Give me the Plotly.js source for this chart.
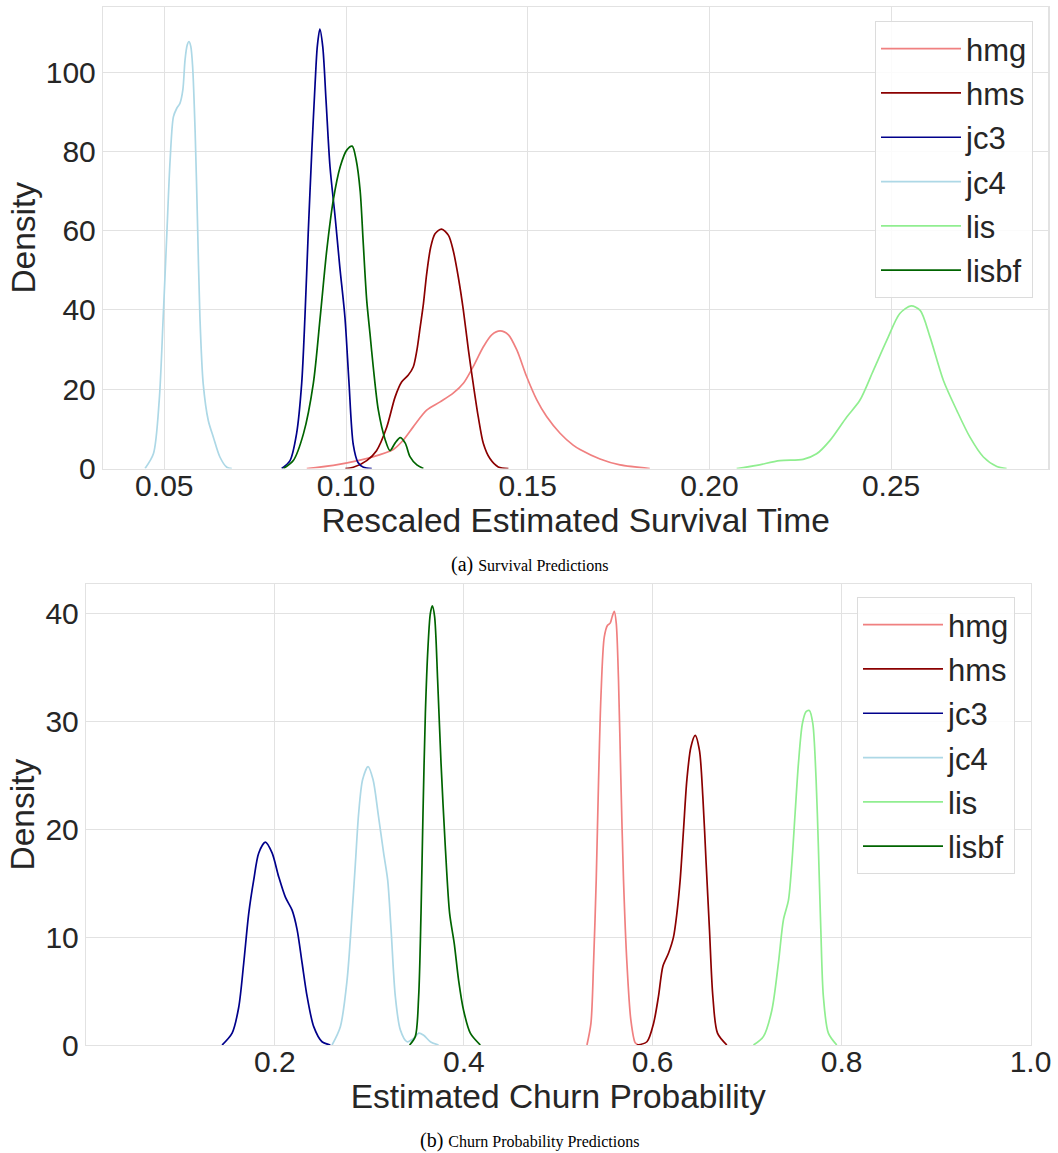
<!DOCTYPE html>
<html>
<head>
<meta charset="utf-8">
<script src="https://cdn.plot.ly/plotly-3.0.1.min.js"></script>
<style>
  html, body { margin: 0; padding: 0; background: #ffffff; }
  #chart { width: 1058px; height: 1153px; }
</style>
</head>
<body>
<div id="chart"></div>
<script>
// ---------- Series names & colours ----------
const seriesNames = ["hmg", "hms", "jc3", "jc4", "lis", "lisbf"];
const seriesColors = ["#F08080", "#8B0000", "#00008B", "#ADD8E6", "#90EE90", "#006400"];

// ---------- (a) Survival predictions: density curves ----------
const survHmgX = [0.0892, 0.0965, 0.1039, 0.1094, 0.1130, 0.1158, 0.1185, 0.1222, 0.1259, 0.1295, 0.1323, 0.1350, 0.1378, 0.1401, 0.1424, 0.1447, 0.1470, 0.1497, 0.1525, 0.1552, 0.1589, 0.1625, 0.1644, 0.1699, 0.1754, 0.1836];
const survHmgY = [0, 0.8, 2.1, 3.5, 4.8, 7.2, 10.5, 14.7, 16.8, 19.0, 21.5, 25.7, 30.7, 33.7, 34.7, 33.7, 29.9, 23.2, 17.3, 13.1, 8.9, 5.9, 4.8, 2.4, 0.9, 0];

const survHmsX = [0.0998, 0.1020, 0.1057, 0.1084, 0.1112, 0.1135, 0.1153, 0.1171, 0.1185, 0.1195, 0.1204, 0.1213, 0.1222, 0.1233, 0.1245, 0.1263, 0.1282, 0.1295, 0.1309, 0.1323, 0.1337, 0.1350, 0.1364, 0.1378, 0.1396, 0.1419, 0.1447];
const survHmsY = [0, 0.3, 2.0, 4.5, 10.4, 18.0, 21.8, 23.5, 25.6, 29.8, 35.6, 41.5, 49.1, 55.8, 59.2, 60.4, 58.8, 55.0, 48.3, 39.9, 29.8, 21.4, 13.0, 6.3, 2.5, 0.4, 0];

const survJc3X = [0.0823, 0.0846, 0.0864, 0.0878, 0.0887, 0.0896, 0.0906, 0.0915, 0.0921, 0.0928, 0.0936, 0.0945, 0.0956, 0.0970, 0.0983, 0.0997, 0.1008, 0.1020, 0.1033, 0.1048, 0.1071];
const survJc3Y = [0, 2.0, 8.8, 21.4, 38.2, 59.3, 80.3, 97.1, 106.4, 110.8, 106.4, 92.9, 76.1, 63.5, 50.8, 38.2, 22.0, 6.0, 1.5, 0.3, 0];

const survJc4X = [0.0447, 0.0470, 0.0486, 0.0497, 0.0507, 0.0516, 0.0525, 0.0534, 0.0543, 0.0551, 0.0557, 0.0563, 0.0568, 0.0573, 0.0578, 0.0585, 0.0591, 0.0598, 0.0607, 0.0621, 0.0635, 0.0653, 0.0672, 0.0686];
const survJc4Y = [0, 3.7, 17.2, 38.2, 59.3, 77.8, 88.7, 90.8, 92.1, 95.5, 103.0, 106.8, 107.7, 106.4, 101.3, 84.5, 63.5, 38.2, 21.4, 12.1, 7.9, 2.9, 0.3, 0];

const survLisX = [0.2075, 0.2130, 0.2194, 0.2258, 0.2295, 0.2332, 0.2378, 0.2414, 0.2451, 0.2488, 0.2524, 0.2555, 0.2580, 0.2607, 0.2644, 0.2681, 0.2717, 0.2754, 0.2791, 0.2818];
const survLisY = [0, 0.8, 2.0, 2.3, 3.7, 7.1, 13.0, 17.2, 24.7, 32.3, 39.1, 41.0, 39.9, 33.2, 22.2, 14.6, 7.9, 2.9, 0.5, 0];

const survLisbfX = [0.0828, 0.0855, 0.0883, 0.0910, 0.0929, 0.0947, 0.0965, 0.0984, 0.1002, 0.1017, 0.1028, 0.1039, 0.1047, 0.1057, 0.1066, 0.1075, 0.1089, 0.1108, 0.1121, 0.1135, 0.1149, 0.1163, 0.1176, 0.1195, 0.1213];
const survLisbfY = [0, 2.0, 8.8, 21.4, 38.2, 55.0, 67.7, 76.1, 80.3, 81.3, 77.8, 70.0, 57.6, 42.4, 34.0, 25.6, 14.7, 7.2, 4.5, 6.4, 7.8, 6.4, 3.0, 0.9, 0];

// ---------- (b) Churn probability predictions: density curves ----------
const churnHmgX = [0.5304, 0.5346, 0.5374, 0.5402, 0.5427, 0.5452, 0.5487, 0.5522, 0.5550, 0.5571, 0.5593, 0.5614, 0.5638, 0.5663, 0.5691, 0.5727, 0.5769, 0.5815, 0.5850];
const churnHmgY = [0, 2.0, 7.6, 15.3, 24.6, 32.3, 37.8, 38.9, 39.1, 39.7, 40.2, 39.1, 33.8, 24.6, 15.3, 7.6, 2.3, 0.2, 0];

const churnHmsX = [0.5833, 0.5939, 0.6009, 0.6061, 0.6108, 0.6167, 0.6220, 0.6256, 0.6291, 0.6326, 0.6362, 0.6404, 0.6450, 0.6495, 0.6531, 0.6566, 0.6601, 0.6637, 0.6686, 0.6785];
const churnHmsY = [0, 0.3, 2.0, 4.5, 7.3, 8.5, 10.0, 12.2, 15.3, 19.9, 24.6, 27.6, 28.7, 27.3, 23.0, 16.8, 10.7, 4.5, 1.1, 0];

const churnJc3X = [0.1441, 0.1547, 0.1617, 0.1670, 0.1723, 0.1776, 0.1829, 0.1899, 0.1970, 0.2040, 0.2111, 0.2182, 0.2235, 0.2288, 0.2341, 0.2411, 0.2499, 0.2587];
const churnJc3Y = [0, 1.1, 3.5, 7.6, 12.2, 15.3, 17.8, 18.8, 17.8, 15.6, 13.7, 12.5, 10.7, 7.6, 4.5, 1.7, 0.3, 0];

const churnJc4X = [0.2605, 0.2693, 0.2764, 0.2817, 0.2852, 0.2887, 0.2929, 0.2986, 0.3039, 0.3092, 0.3151, 0.3194, 0.3230, 0.3275, 0.3328, 0.3399, 0.3469, 0.3522, 0.3575, 0.3646, 0.3733];
const churnJc4Y = [0, 1.7, 6.0, 12.2, 16.8, 21.5, 24.6, 25.8, 24.6, 21.5, 17.8, 15.3, 10.7, 4.5, 1.4, 0.3, 0.6, 1.1, 0.9, 0.3, 0];

const churnLisX = [0.7067, 0.7173, 0.7261, 0.7331, 0.7384, 0.7437, 0.7473, 0.7508, 0.7543, 0.7585, 0.7624, 0.7659, 0.7695, 0.7730, 0.7754, 0.7780, 0.7807, 0.7860, 0.7949];
const churnLisY = [0, 0.8, 3.2, 7.6, 11.6, 13.4, 16.8, 21.5, 26.1, 29.8, 30.9, 31.0, 29.8, 24.6, 18.4, 10.7, 4.5, 1.1, 0];

const churnLisbfX = [0.3426, 0.3487, 0.3522, 0.3547, 0.3568, 0.3593, 0.3621, 0.3646, 0.3667, 0.3691, 0.3723, 0.3759, 0.3804, 0.3850, 0.3899, 0.3945, 0.3998, 0.4069, 0.4175];
const churnLisbfY = [0, 0.8, 4.5, 12.2, 21.5, 30.7, 36.9, 40.0, 40.7, 39.7, 33.8, 26.1, 18.4, 12.2, 9.4, 6.0, 3.2, 1.1, 0];

// ---------- Ticks & labels ----------
const survXTicks = [0.05, 0.10, 0.15, 0.20, 0.25];
const survXTickText = ["0.05", "0.10", "0.15", "0.20", "0.25"];
const survYTicks = [0, 20, 40, 60, 80, 100];
const churnXTicks = [0.2, 0.4, 0.6, 0.8, 1.0];
const churnXTickText = ["0.2", "0.4", "0.6", "0.8", "1.0"];
const churnYTicks = [0, 10, 20, 30, 40];

const survXTitle = "Rescaled Estimated Survival Time";
const churnXTitle = "Estimated Churn Probability";
const yTitle = "Density";
const captionA = ["(a)", "Survival Predictions"];
const captionB = ["(b)", "Churn Probability Predictions"];

// ---------- Build traces ----------
const survData = [[survHmgX, survHmgY], [survHmsX, survHmsY], [survJc3X, survJc3Y], [survJc4X, survJc4Y], [survLisX, survLisY], [survLisbfX, survLisbfY]];
const churnData = [[churnHmgX, churnHmgY], [churnHmsX, churnHmsY], [churnJc3X, churnJc3Y], [churnJc4X, churnJc4Y], [churnLisX, churnLisY], [churnLisbfX, churnLisbfY]];

const traces = [];
survData.forEach((d, i) => {
  traces.push({
    x: d[0], y: d[1], type: "scatter", mode: "lines",
    name: seriesNames[i], legend: "legend", legendgroup: "a" + i,
    line: { color: seriesColors[i], width: 1.7, shape: "spline", smoothing: 0.8 },
    xaxis: "x", yaxis: "y", hoverinfo: "skip"
  });
});
churnData.forEach((d, i) => {
  traces.push({
    x: d[0], y: d[1], type: "scatter", mode: "lines",
    name: seriesNames[i], legend: "legend2", legendgroup: "b" + i,
    line: { color: seriesColors[i], width: 1.7, shape: "spline", smoothing: 0.8 },
    xaxis: "x2", yaxis: "y2", hoverinfo: "skip"
  });
});

const W = 1058, H = 1153;
const FONT = "Liberation Sans, Arial, Helvetica, sans-serif";
const TXT = "#262626";
const GRID = "#e2e2e2";

function axisBase() {
  return {
    showgrid: true, gridcolor: GRID, gridwidth: 1,
    showline: true, mirror: true, linecolor: GRID, linewidth: 1.2,
    zeroline: false, ticks: "", automargin: false,
    tickfont: { family: FONT, size: 30, color: TXT },
    tickmode: "array"
  };
}

const legendBase = {
  font: { family: FONT, size: 31, color: TXT },
  bgcolor: "rgba(255,255,255,0.85)", bordercolor: "#dcdcdc", borderwidth: 1,
  xanchor: "right", yanchor: "top", traceorder: "grouped", tracegroupgap: 1,
  itemwidth: 80
};

const layout = {
  width: W, height: H,
  paper_bgcolor: "#ffffff", plot_bgcolor: "#ffffff",
  margin: { l: 0, r: 0, t: 0, b: 0 },
  showlegend: true,
  xaxis: Object.assign(axisBase(), {
    domain: [103 / W, 1048.3 / W], range: [0.03313, 0.29326],
    tickvals: survXTicks, ticktext: survXTickText, anchor: "y", ticklabelstandoff: -10,
    title: { text: survXTitle, font: { family: FONT, size: 33.5, color: TXT }, standoff: 3 }
  }),
  yaxis: Object.assign(axisBase(), {
    domain: [1 - 468.5 / H, 1 - 7 / H], range: [0, 116.4],
    tickvals: survYTicks, anchor: "x",
    title: { text: yTitle, font: { family: FONT, size: 33.5, color: TXT }, standoff: 0 }
  }),
  xaxis2: Object.assign(axisBase(), {
    domain: [86 / W, 1030.5 / W], range: [0, 1.0],
    tickvals: churnXTicks, ticktext: churnXTickText, anchor: "y2", ticklabelstandoff: -10,
    title: { text: churnXTitle, font: { family: FONT, size: 33.5, color: TXT }, standoff: 4 }
  }),
  yaxis2: Object.assign(axisBase(), {
    domain: [1 - 1045 / H, 1 - 584.3 / H], range: [0, 42.7],
    tickvals: churnYTicks, anchor: "x2",
    title: { text: yTitle, font: { family: FONT, size: 33.5, color: TXT }, standoff: 0 }
  }),
  legend: Object.assign({}, legendBase, { x: 1033 / W, y: 1 - 21 / H }),
  legend2: Object.assign({}, legendBase, { x: 1015 / W, y: 1 - 597 / H }),
  annotations: [
    {
      xref: "paper", yref: "paper", x: 529 / W, y: 1 - 564 / H, xanchor: "center", yanchor: "middle",
      showarrow: false,
      text: captionA[0] + " <span style='font-size:16px'>" + captionA[1] + "</span>",
      font: { family: "Liberation Serif, Times New Roman, serif", size: 20, color: "#000000" }
    },
    {
      xref: "paper", yref: "paper", x: 529 / W, y: 1 - 1140 / H, xanchor: "center", yanchor: "middle",
      showarrow: false,
      text: captionB[0] + " <span style='font-size:16px'>" + captionB[1] + "</span>",
      font: { family: "Liberation Serif, Times New Roman, serif", size: 20, color: "#000000" }
    }
  ]
};

Plotly.newPlot("chart", traces, layout, { displayModeBar: false, staticPlot: true });
</script>
</body>
</html>
